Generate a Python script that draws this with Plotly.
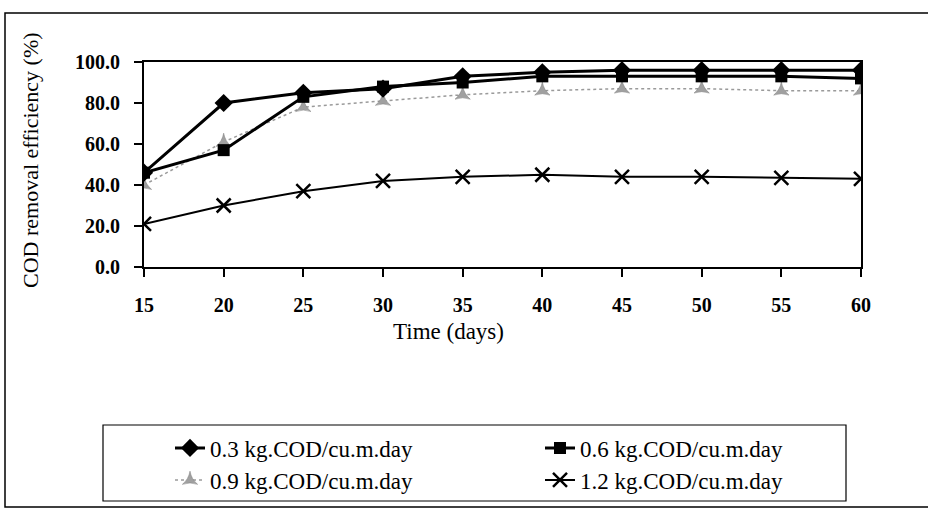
import plotly.graph_objects as go

# Operating time (days)
days = [15, 20, 25, 30, 35, 40, 45, 50, 55, 60]

# COD removal efficiency (%) at each organic loading rate
eff_03 = [46, 80, 85, 87, 93, 95, 96, 96, 96, 96]
eff_06 = [46, 57, 83, 88, 90, 93, 93, 93, 93, 92]
eff_09 = [40, 61, 78, 81, 84, 86, 87, 87, 86, 86]
eff_12 = [21, 30, 37, 42, 44, 45, 44, 44, 43.5, 43]

y_ticks = [0, 20, 40, 60, 80, 100]

names = [
    "0.3 kg.COD/cu.m.day",
    "0.6 kg.COD/cu.m.day",
    "0.9 kg.COD/cu.m.day",
    "1.2 kg.COD/cu.m.day",
]

SERIF = "Liberation Serif, Times New Roman, serif"

L, R, T, B = 144, 67, 62, 245
W, H = 928, 512
pw, ph = W - L - R, H - T - B


def px_x(p):
    return (p - L) / pw


def px_y(p):
    return (H - B - p) / ph


fig = go.Figure()

fig.add_trace(go.Scatter(
    x=days, y=eff_09, name=names[2], mode="lines+markers",
    line=dict(color="#9a9a9a", width=1.5, dash="dot"),
    marker=dict(symbol="star-triangle-up", size=11, color="#a0a0a0",
                line=dict(color="#7a7a7a", width=0.5)),
    legend="legend3",
))
fig.add_trace(go.Scatter(
    x=days, y=eff_12, name=names[3], mode="lines+markers",
    line=dict(color="black", width=2),
    marker=dict(symbol="x-thin", size=14, color="black",
                line=dict(color="black", width=2.5)),
    legend="legend4",
))
fig.add_trace(go.Scatter(
    x=days, y=eff_06, name=names[1], mode="lines+markers",
    line=dict(color="black", width=3),
    marker=dict(symbol="square", size=12, color="black"),
    legend="legend2",
))
fig.add_trace(go.Scatter(
    x=days, y=eff_03, name=names[0], mode="lines+markers",
    line=dict(color="black", width=3),
    marker=dict(symbol="diamond", size=14, color="black"),
    legend="legend",
))


def legend_at(x_px, y_px):
    return dict(
        x=px_x(x_px), y=px_y(y_px), xanchor="left", yanchor="middle",
        font=dict(family=SERIF, size=23, color="black"),
        bgcolor="rgba(0,0,0,0)", borderwidth=0, itemclick=False,
    )


col1, col2 = 170, 540
row1, row2 = 448, 480

fig.update_layout(
    width=W, height=H,
    margin=dict(l=L, r=R, t=T, b=B, autoexpand=False),
    paper_bgcolor="white", plot_bgcolor="white",
    font=dict(family=SERIF, color="black"),
    showlegend=True,
    legend=legend_at(col1, row1),
    legend2=legend_at(col2, row1),
    legend3=legend_at(col1, row2),
    legend4=legend_at(col2, row2),
    xaxis=dict(
        range=[15, 60], tickmode="array", tickvals=days,
        ticks="outside", ticklen=8, tickwidth=1.5, tickcolor="black",
        showline=True, linecolor="black", linewidth=2, mirror=True,
        showgrid=False, zeroline=False,
        tickfont=dict(family=SERIF, size=20, color="black", weight="bold"),
        ticklabelstandoff=11,
    ),
    yaxis=dict(
        range=[0, 100], tickmode="array", tickvals=y_ticks, tickformat=".1f",
        ticks="outside", ticklen=8, tickwidth=1.5, tickcolor="black",
        showline=True, linecolor="black", linewidth=2, mirror=True,
        showgrid=False, zeroline=False,
        tickfont=dict(family=SERIF, size=20, color="black", weight="bold"),
        ticklabelstandoff=10,
    ),
    annotations=[
        dict(text="Time (days)", xref="paper", yref="paper",
             x=px_x(448), y=px_y(331), showarrow=False,
             xanchor="center", yanchor="middle",
             font=dict(family=SERIF, size=23, color="black")),
        dict(text="COD removal efficiency (%)", xref="paper", yref="paper",
             x=px_x(30), y=px_y(160), showarrow=False, textangle=-90,
             xanchor="center", yanchor="middle",
             font=dict(family=SERIF, size=22, color="black")),
    ],
    shapes=[
        # outer frame of the chart (right side runs off the page)
        dict(type="rect", xref="paper", yref="paper",
             x0=px_x(5), x1=px_x(935), y0=px_y(507), y1=px_y(13),
             line=dict(color="black", width=1.5), layer="below"),
        # legend frame
        dict(type="rect", xref="paper", yref="paper",
             x0=px_x(103), x1=px_x(846), y0=px_y(501), y1=px_y(425),
             line=dict(color="black", width=1.2), layer="below"),
    ],
)

fig.write_html("out.html")
